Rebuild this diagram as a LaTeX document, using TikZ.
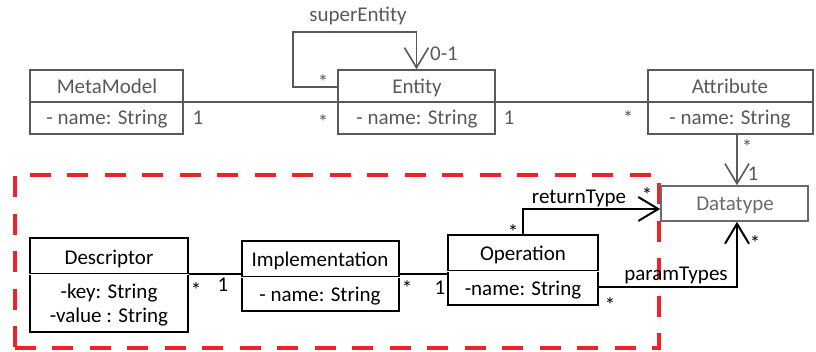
\documentclass[tikz,border=0pt]{standalone}
\usepackage{fontspec}
\setmainfont{Carlito}
\usetikzlibrary{arrows.meta}
\definecolor{tg}{HTML}{595959}
\definecolor{dg}{HTML}{6A6A6A}
\definecolor{rd}{HTML}{EE2229}
\begin{document}
\begin{tikzpicture}[x=1pt,y=-1pt,
  txt/.style={font=\fontsize{21}{25}\selectfont, inner sep=0pt, anchor=base},
  gtxt/.style={txt, text=tg},
  ast/.style={font=\fontsize{21}{25}\selectfont, inner sep=0pt, anchor=center, yshift=-3pt},
  gbox/.style={draw=tg, line width=1.6pt, inner sep=0pt, minimum width=#1},
  bbox/.style={draw=black, line width=1.8pt, inner sep=0pt, minimum width=#1},
  gdiv/.style={draw=tg, line width=2.4pt},
  bdiv/.style={draw=black, double, double distance=0.9pt, line width=1pt},
  gline/.style={draw=tg, line width=1.3pt},
  bline/.style={draw=black, line width=1.4pt},
  bconn/.style={draw=black, line width=2pt},
  arr/.style={-{Straight Barb[length=20pt,width=24pt]}},
  frame/.style={draw=rd, line width=4pt, dash pattern=on 21pt off 16.5pt, inner sep=0pt}
]
\useasboundingbox (0,0) rectangle (816,352);

% red group frame
\node[frame, minimum width=644, minimum height=173] (grp) at (336.5,261.5) {};

% top row boxes
\node[gbox=153, minimum height=64] (mm) at (106.5,102) {};
\draw[gdiv] (mm.west) -- (mm.east);
\node[gtxt] (mmh) at (107,94) {MetaModel};
\node[gtxt] (mma) at (107,125) {- name: String};

\node[gbox=157, minimum height=64] (ent) at (416.5,102) {};
\draw[gdiv] (ent.west) -- (ent.east);
\node[gtxt] (enth) at (417,94) {Entity};
\node[gtxt] (enta) at (417,125) {- name: String};

\node[gbox=165, minimum height=64] (att) at (730.5,102) {};
\draw[gdiv] (att.west) -- (att.east);
\node[gtxt] (atth) at (730,94) {Attribute};
\node[gtxt] (atta) at (730,125) {- name: String};

\node[draw=dg, line width=1.6pt, inner sep=0pt, minimum width=147, minimum height=35] (dt) at (734.5,203.5) {};
\node[txt, text=dg] (dth) at (735,210.5) {Datatype};

% bottom boxes
\node[bbox=158, minimum height=94] (desc) at (109,285) {};
\draw[bdiv] (desc.west |- 0,274) -- (desc.east |- 0,274);
\node[txt] (desch) at (109,265) {Descriptor};
\node[txt] (desca) at (109,298.3) {-key: String};
\node[txt] (descb) at (109,323) {-value : String};

\node[bbox=157, minimum height=70] (impl) at (320.5,276) {};
\draw[bdiv] (impl.west |- 0,277) -- (impl.east |- 0,277);
\node[txt] (implh) at (320,266.7) {Implementation};
\node[txt] (impla) at (320,301.7) {- name: String};

\node[bbox=150, minimum height=70] (op) at (523,270) {};
\draw[bdiv] (op.west |- 0,271) -- (op.east |- 0,271);
\node[txt] (oph) at (523,261) {Operation};
\node[txt] (opa) at (523,296) {-name: String};

% top connectors
\draw[gline] (mm.east) -- (ent.west);
\draw[gline] (ent.east) -- (att.west);
\draw[draw=tg, line width=1.6pt, arr] (ent.west |- 0,87) -- (293,87) -- (293,32) -- (ent.north |- 0,32) -- (ent.north);
\draw[draw=tg, line width=1.6pt, arr] (att.south -| 737,0) -- (dt.north -| 737,0);

% bottom connectors
\draw[bline] (desc.east |- 0,274) -- (impl.west |- 0,274);
\draw[bline] (impl.east |- 0,274) -- (op.west |- 0,274);
\draw[bconn, arr] (op.north) -- (op.north |- 0,209) -- (dt.west |- 0,209);
\draw[bconn, arr] (op.east |- 0,287) -- (737,287) -- (dt.south -| 737,0);

% labels
\node[gtxt] (lse) at (358,22) {superEntity};
\node[gtxt] (l01) at (444,60.5) {0-1};
\node[ast, text=tg] (s1) at (323,79) {*};
\node[gtxt] (m1) at (198,125) {1};
\node[ast, text=tg] (s2) at (323,119) {*};
\node[gtxt] (m2) at (509,125) {1};
\node[ast, text=tg] (s3) at (628,115) {*};
\node[ast, text=tg] (s4) at (747,144) {*};
\node[gtxt] (m3) at (753,180.5) {1};

\node[ast] (s5) at (196,287) {*};
\node[txt] (m4) at (223,291.7) {1};
\node[ast] (s6) at (407,285) {*};
\node[txt] (m5) at (440,295) {1};
\node[txt] (lrt) at (579,203.5) {returnType};
\node[ast] (s7) at (647,192) {*};
\node[ast] (s8) at (513,229) {*};
\node[txt] (lpt) at (676,281) {paramTypes};
\node[ast] (s9) at (610,302) {*};
\node[ast] (s10) at (755,240) {*};
\end{tikzpicture}
\end{document}
